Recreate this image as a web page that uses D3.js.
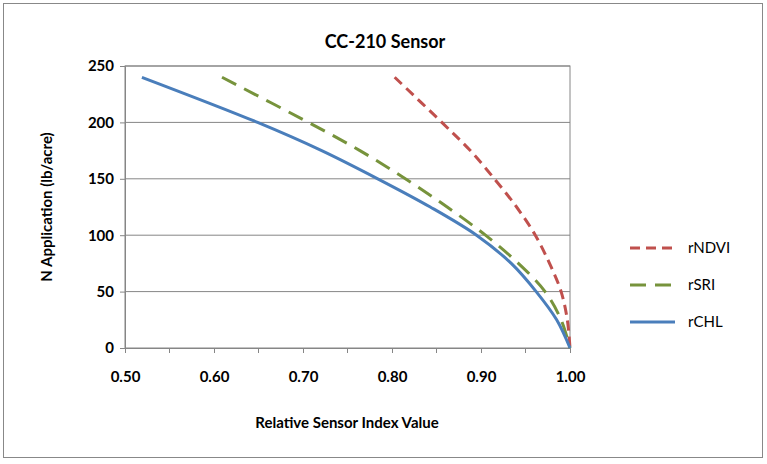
<!DOCTYPE html>
<html><head><meta charset="utf-8">
<script src="https://cdn.jsdelivr.net/npm/d3@7"></script>
<style>body{margin:0;background:#fff}text{font-family:Lato,"Liberation Sans",sans-serif}</style>
</head><body><svg id="chart" width="767" height="464"></svg>
<script>
// values: [index value, N rate]
const rNDVI = [[0.803,240],[0.856,200],[0.888,175],[0.915,150],[0.940,125],[0.961,100],[0.977,75],[0.990,50],[0.997,25],[1.0,0]];
const rSRI = [[0.609,240],[0.706,200],[0.764,175],[0.815,150],[0.862,125],[0.905,100],[0.942,75],[0.972,50],[0.990,25],[1.0,0]];
const rCHL = [[0.519,240],[0.649,200],[0.721,175],[0.784,150],[0.843,125],[0.895,100],[0.934,75],[0.962,50],[0.985,25],[1.0,0]];
const xTicks = [0.5,0.6,0.7,0.8,0.9,1.0];
const yTicks = [0,50,100,150,200,250];
const seriesNames = ["rNDVI","rSRI","rCHL"];
const colors = ["#c0504d","#77933c","#4a7ebb"];
const dashes = ["10,6","16,9",null];

const svg = d3.select("#chart");
svg.append("rect").attr("x",3.5).attr("y",3.5).attr("width",759).attr("height",454)
  .attr("fill","none").attr("stroke","#888");

const x = d3.scaleLinear().domain([0.5,1.0]).range([125,570]);
const y = d3.scaleLinear().domain([0,250]).range([348,66]);

svg.append("g").selectAll("line").data(yTicks.slice(1)).enter().append("line")
  .attr("x1",125).attr("x2",570).attr("y1",d=>y(d)).attr("y2",d=>y(d)).attr("stroke","#868686");
svg.append("rect").attr("x",125).attr("y",66).attr("width",445).attr("height",282)
  .attr("fill","none").attr("stroke","#868686");

const xa = svg.append("g").attr("transform","translate(0,348)")
  .call(d3.axisBottom(x).tickValues(xTicks).tickFormat(d3.format(".2f")).tickSize(5).tickPadding(18));
const ya = svg.append("g").attr("transform","translate(125,0)")
  .call(d3.axisLeft(y).tickValues(yTicks).tickSize(5).tickPadding(6));
[xa,ya].forEach(a=>{
  a.select(".domain").attr("stroke","#868686");
  a.selectAll(".tick line").attr("stroke","#868686");
  a.selectAll("text").attr("font-size",15).attr("font-weight","bold").attr("fill","#000");
});
// minor x ticks
svg.append("g").selectAll("line").data(d3.range(0.55,1.0,0.1)).enter().append("line")
  .attr("x1",d=>x(d)).attr("x2",d=>x(d)).attr("y1",348).attr("y2",353).attr("stroke","#868686");

const line = d3.line().x(d=>x(d[0])).y(d=>y(d[1])).curve(d3.curveCatmullRom);
[rNDVI,rSRI,rCHL].forEach((s,i)=>{
  svg.append("path").datum(s).attr("d",line).attr("fill","none")
    .attr("stroke",colors[i]).attr("stroke-width",3).attr("stroke-dasharray",dashes[i]);
});

seriesNames.forEach((n,i)=>{
  const ly = 248 + i*37;
  svg.append("line").attr("x1",630).attr("x2",675).attr("y1",ly).attr("y2",ly)
    .attr("stroke",colors[i]).attr("stroke-width",3).attr("stroke-dasharray",dashes[i]);
  svg.append("text").attr("x",688).attr("y",ly+5).attr("font-size",15).text(n);
});

svg.append("text").attr("x",385).attr("y",48).attr("text-anchor","middle")
  .attr("font-size",18).attr("font-weight","bold").text("CC-210 Sensor");
svg.append("text").attr("x",347).attr("y",428).attr("text-anchor","middle")
  .attr("font-size",15).attr("font-weight","bold").text("Relative Sensor Index Value");
svg.append("text").attr("transform","translate(52,207) rotate(-90)").attr("text-anchor","middle")
  .attr("font-size",15).attr("font-weight","bold").text("N Application (lb/acre)");
</script></body></html>
